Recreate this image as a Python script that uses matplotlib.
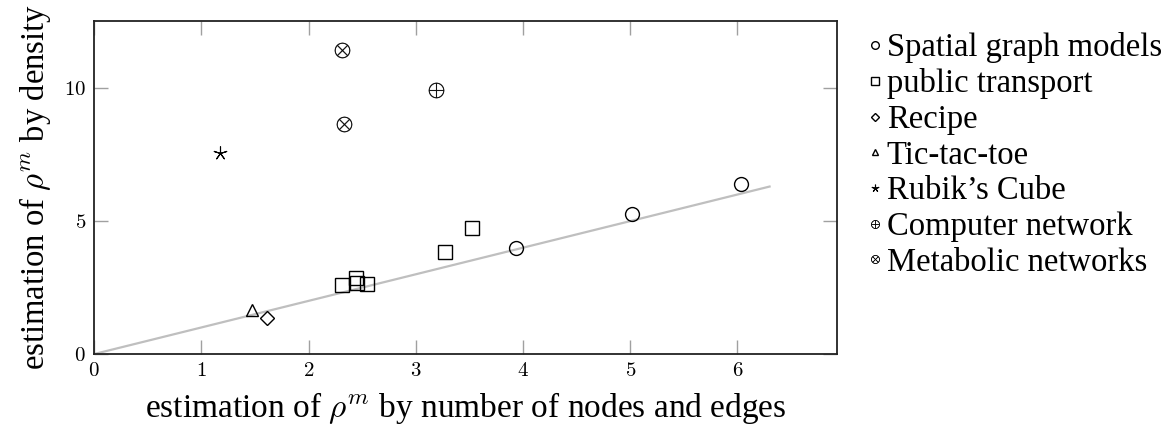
import numpy as np
import matplotlib
matplotlib.use('Agg')
import matplotlib.pyplot as plt

plt.rcParams['font.family'] = ['Liberation Serif', 'DejaVu Serif']
plt.rcParams['mathtext.fontset'] = 'cm'

# values
spatial_x = [3.93, 5.02, 6.03]
spatial_y = [3.98, 5.26, 6.39]
transport_x = [2.31, 2.44, 2.45, 2.54, 3.27, 3.52]
transport_y = [2.60, 2.85, 2.68, 2.65, 3.83, 4.73]
recipe_x = [1.61]
recipe_y = [1.34]
tictac_x = [1.47]
tictac_y = [1.66]
rubik_x = [1.17]
rubik_y = [7.58]
computer_x = [3.19]
computer_y = [9.94]
metabolic_x = [2.31, 2.33]
metabolic_y = [11.42, 8.66]
line_x = [0, 6.3]
line_y = [0, 6.3]

xticks = [0, 1, 2, 3, 4, 5, 6]
yticks = [0, 5, 10]

fig = plt.figure(figsize=(11.68, 4.3), dpi=100)
ax = fig.add_axes([0.0807, 0.1767, 0.636, 0.7752])

ax.plot(line_x, line_y, color='#bfbfbf', lw=1.6, zorder=1)

kw = dict(ls='none', mfc='none', mec='black', mew=1.0, color='black')
ax.plot(spatial_x, spatial_y, marker='o', ms=10, label='Spatial graph models', **kw)
ax.plot(transport_x, transport_y, marker='s', ms=10, label='public transport', **kw)
ax.plot(recipe_x, recipe_y, marker='D', ms=7, label='Recipe', **kw)
ax.plot(tictac_x, tictac_y, marker='^', ms=9, label='Tic-tac-toe', **kw)
ax.plot(rubik_x, rubik_y, marker=(5, 2), ms=10, mew=0.8, label="Rubik\u2019s Cube",
        ls='none', color='black')
ax.plot(computer_x, computer_y, marker=r'$\oplus$', ms=11, label='Computer network',
        ls='none', color='black', mew=0.3)
ax.plot(metabolic_x, metabolic_y, marker=r'$\otimes$', ms=11, label='Metabolic networks',
        ls='none', color='black', mew=0.3)

ax.set_xlim(0, 6.93)
ax.set_ylim(0, 12.54)
ax.set_xticks(xticks)
ax.set_yticks(yticks)
ax.set_xticklabels(['$%d$' % t for t in xticks])
ax.set_yticklabels(['$%d$' % t for t in yticks])
ax.tick_params(direction='in', length=10, width=1, color='#a0a0a0',
               top=True, right=True, labelsize=15, pad=6)
for s in ax.spines.values():
    s.set_linewidth(1.3)
    s.set_color('#222222')

ax.set_xlabel(r'estimation of $\rho^m$ by number of nodes and edges', fontsize=24, labelpad=6)
ax.set_ylabel(r'estimation of $\rho^m$ by density', fontsize=23.5, labelpad=8)

ax.legend(loc='upper left', bbox_to_anchor=(1.025, 1.005), frameon=False, fontsize=23.5,
          markerscale=0.55, handlelength=0.4, handletextpad=0.15, labelspacing=0.16,
          borderaxespad=0)

fig.savefig('out.png', dpi=100)
